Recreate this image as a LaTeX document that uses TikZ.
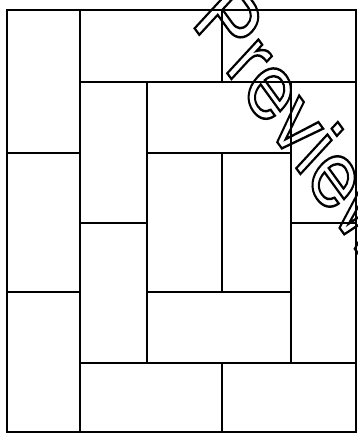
\documentclass[tikz,border=0pt]{standalone}
\usepackage{fontspec}
\setmainfont{TeX Gyre Heros}
\newcommand\outlinetext[1]{\special{pdf:literal direct 1 Tr 2.2 w}#1\special{pdf:literal direct 0 Tr}}
\tikzset{
  tile/.style={draw=black, line width=2.4pt, line join=miter},
  watermark/.style={inner sep=0pt, outer sep=0pt, anchor=base west, font=\fontsize{86}{86}\selectfont}
}
\begin{document}
\begin{tikzpicture}[x=1pt, y=-1pt]
\useasboundingbox (0,0) rectangle (358,433);
\clip (0,0) rectangle (358,433);
\fill[white] (0,0) rectangle (358,433);
% dominoes
\draw[tile] (7,10) rectangle (80,153);
\draw[tile] (80,10) rectangle (222,82);
\draw[tile] (222,10) rectangle (356,82);
\draw[tile] (80,82) rectangle (147,223);
\draw[tile] (147,82) rectangle (291,153);
\draw[tile] (291,82) rectangle (356,223);
\draw[tile] (7,153) rectangle (80,292);
\draw[tile] (147,153) rectangle (222,292);
\draw[tile] (222,153) rectangle (291,292);
\draw[tile] (80,223) rectangle (147,363);
\draw[tile] (291,223) rectangle (356,363);
\draw[tile] (7,292) rectangle (80,432);
\draw[tile] (147,292) rectangle (291,363);
\draw[tile] (80,363) rectangle (222,432);
\draw[tile] (222,363) rectangle (356,432);
% watermark
\node[watermark, rotate=-54, xslant=-0.2] (wm) at (190,22) {\outlinetext{Preview}};
\end{tikzpicture}
\end{document}
